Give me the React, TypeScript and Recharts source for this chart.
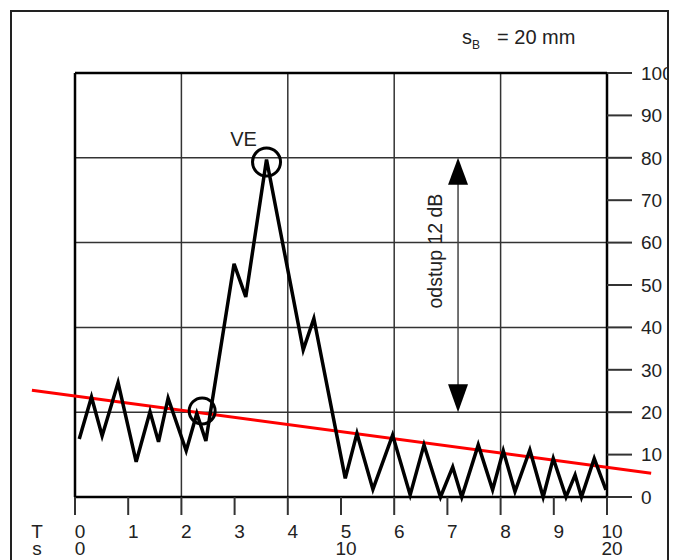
import React from 'react';
import { LineChart, Line, XAxis, YAxis, ReferenceLine, ReferenceDot } from 'recharts';

const timeTicks = [0, 1, 2, 3, 4, 5, 6, 7, 8, 9, 10];
const distanceLabels: Record<number, string> = { 0: '0', 5: '10', 10: '20' };
const levelTicks = [0, 10, 20, 30, 40, 50, 60, 70, 80, 90, 100];
const gridX = [2, 4, 6, 8];
const gridY = [20, 40, 60, 80];

const echoT = [
  0.08, 0.31, 0.51, 0.81, 1.15, 1.41, 1.57, 1.75, 2.09, 2.29, 2.46, 2.99, 3.21, 3.6, 4.29, 4.49,
  5.08, 5.3, 5.6, 5.97, 6.3, 6.56, 6.87, 7.1, 7.27, 7.58, 7.85, 8.05, 8.27, 8.55, 8.8, 8.99, 9.23,
  9.4, 9.52, 9.76, 9.98,
];
const echoLevel = [
  13.7, 23.6, 14.4, 27, 8.3, 20.1, 13, 23.3, 10.9, 19.7, 13.2, 55, 47.2, 79.6, 34.7, 42.1, 4.4, 15,
  1.8, 14.6, 0.5, 12.3, 0, 7.1, 0, 12.3, 1.7, 10.9, 1.3, 11.1, 0, 9.1, 0, 5.2, 0, 9.1, 1.7,
];

// red threshold line (reaches beyond the plot on both sides)
const thresholdStart = { x: -0.81, y: 25.2 };
const thresholdEnd = { x: 10.83, y: 5.6 };

const startMark = { x: 2.39, y: 20.3 };
const peakMark = { x: 3.6, y: 79 };
const gapArrow = { x: 7.2, top: 80, bottom: 20 };

const data = echoT.map((t, i) => ({ t, level: echoLevel[i] }));

const FONT = '"Liberation Sans", Arial, sans-serif';
const TEXT = '#222';

const TimeTick = (props: any) => {
  const { x, y, payload } = props;
  const v = payload.value;
  return (
    <g>
      <text x={x + 5} y={y + 21} textAnchor="middle" fontSize={19} fontFamily={FONT} fill={TEXT}>
        {v}
      </text>
      {distanceLabels[v] !== undefined && (
        <text x={x + 5} y={y + 38} textAnchor="middle" fontSize={19} fontFamily={FONT} fill={TEXT}>
          {distanceLabels[v]}
        </text>
      )}
      {v === 0 && (
        <>
          <text x={x - 38} y={y + 21} textAnchor="middle" fontSize={19} fontFamily={FONT} fill={TEXT}>
            T
          </text>
          <text x={x - 38} y={y + 38} textAnchor="middle" fontSize={19} fontFamily={FONT} fill={TEXT}>
            s
          </text>
        </>
      )}
    </g>
  );
};

export default function App() {
  return (
    <div style={{ position: 'absolute', left: 0, top: 0, width: 673, height: 560, background: '#fff' }}>
      <div
        style={{
          position: 'absolute',
          left: 10,
          top: 10,
          width: 659,
          height: 600,
          border: '2px solid #222',
          boxSizing: 'border-box',
          overflow: 'hidden',
        }}
      >
        <div style={{ position: 'absolute', left: -12, top: -12, width: 673, height: 560 }}>
          <div
            style={{
              position: 'absolute',
              left: 462,
              top: 26,
              fontFamily: FONT,
              fontSize: 20,
              color: TEXT,
              whiteSpace: 'nowrap',
            }}
          >
            s<sub style={{ fontSize: 12, verticalAlign: -5 }}>B</sub>
            <span style={{ marginLeft: 17 }}>= 20 mm</span>
          </div>
          <LineChart width={673} height={560} data={data} margin={{ top: 73, left: 75, right: 0, bottom: 0 }}>
            <XAxis
              dataKey="t"
              type="number"
              domain={[0, 10]}
              ticks={timeTicks}
              axisLine={false}
              tickSize={18}
              tickLine={{ stroke: '#333', strokeWidth: 2 }}
              tick={<TimeTick />}
              height={63}
              interval={0}
            />
            <YAxis
              orientation="right"
              type="number"
              domain={[0, 100]}
              ticks={levelTicks}
              axisLine={false}
              tickSize={25}
              tickMargin={9}
              tickLine={{ stroke: '#333', strokeWidth: 2 }}
              tick={{ fontSize: 19, fontFamily: FONT, fill: TEXT }}
              width={66}
              interval={0}
            />
            {gridX.map((x) => (
              <ReferenceLine key={'gx' + x} x={x} stroke="#333" strokeWidth={1.5} />
            ))}
            {gridY.map((y) => (
              <ReferenceLine key={'gy' + y} y={y} stroke="#333" strokeWidth={1.5} />
            ))}
            <ReferenceLine x={0} stroke="#000" strokeWidth={2.5} />
            <ReferenceLine x={10} stroke="#000" strokeWidth={2.5} />
            <ReferenceLine y={0} stroke="#000" strokeWidth={2.5} />
            <ReferenceLine y={100} stroke="#000" strokeWidth={2.5} />
            <ReferenceLine
              segment={[
                { x: gapArrow.x, y: gapArrow.top - 5 },
                { x: gapArrow.x, y: gapArrow.bottom + 5 },
              ]}
              stroke="#444"
              strokeWidth={1.5}
            />
            <ReferenceDot
              x={gapArrow.x}
              y={gapArrow.top}
              r={0}
              shape={(p: any) => (
                <polygon points={`${p.cx},${p.cy} ${p.cx - 10},${p.cy + 27} ${p.cx + 10},${p.cy + 27}`} fill="#000" />
              )}
            />
            <ReferenceDot
              x={gapArrow.x}
              y={gapArrow.bottom}
              r={0}
              shape={(p: any) => (
                <polygon points={`${p.cx},${p.cy} ${p.cx - 10},${p.cy - 28} ${p.cx + 10},${p.cy - 28}`} fill="#000" />
              )}
            />
            <ReferenceDot
              x={6.77}
              y={58}
              r={0}
              shape={(p: any) => (
                <text
                  x={p.cx}
                  y={p.cy}
                  transform={`rotate(-90 ${p.cx} ${p.cy})`}
                  textAnchor="middle"
                  dominantBaseline="central"
                  fontSize={19.5}
                  fontFamily={FONT}
                  fill={TEXT}
                >
                  odstup 12 dB
                </text>
              )}
            />
            <ReferenceLine
              segment={[thresholdStart, thresholdEnd]}
              ifOverflow="visible"
              stroke="#ff0000"
              strokeWidth={3}
            />
            <Line
              dataKey="level"
              type="linear"
              stroke="#000"
              strokeWidth={3.5}
              dot={false}
              activeDot={false}
              isAnimationActive={false}
            />
            <ReferenceDot
              x={startMark.x}
              y={startMark.y}
              r={13}
              fill="none"
              stroke="#000"
              strokeWidth={3}
            />
            <ReferenceDot
              x={peakMark.x}
              y={peakMark.y}
              r={14}
              shape={(p: any) => (
                <g>
                  <circle cx={p.cx} cy={p.cy} r={14} fill="none" stroke="#000" strokeWidth={3} />
                  <text x={p.cx - 23} y={p.cy - 16} textAnchor="middle" fontSize={20} fontFamily={FONT} fill={TEXT}>
                    VE
                  </text>
                </g>
              )}
            />
          </LineChart>
        </div>
      </div>
    </div>
  );
}
